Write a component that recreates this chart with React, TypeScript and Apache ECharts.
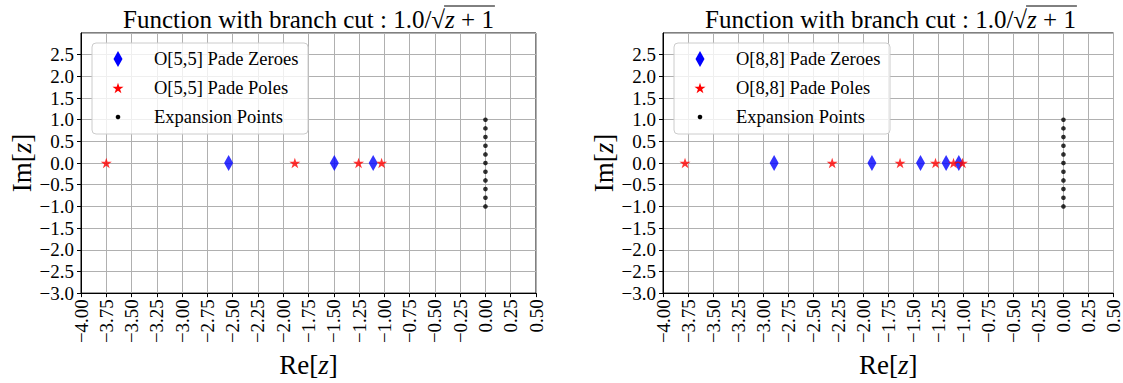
import React, { useEffect, useRef } from "react";
import * as echarts from "echarts";

// ---- data ----
const zeros55 = [-2.54, -1.495, -1.11];
const poles55 = [-3.75, -1.885, -1.255, -1.027];
const zeros88 = [-2.89, -1.913, -1.428, -1.172, -1.045];
const poles88 = [-3.78, -2.31, -1.632, -1.278, -1.098, -1.009];
const expansionIm = [-1, -0.8, -0.6, -0.4, -0.2, 0, 0.2, 0.4, 0.6, 0.8, 1];
const orders = ["O[5,5]", "O[8,8]"];
const titleMain = "Function with branch cut : 1.0/";
const xName = "Re";
const yName = "Im";

const FONT = "Liberation Serif";
const STAR =
  "path://M100,0 L122.45,69.1 L195.11,69.1 L136.33,111.8 L158.78,180.9 L100,138.2 L41.22,180.9 L63.67,111.8 L4.89,69.1 L77.55,69.1 Z";

const GRIDS = [
  { left: 81, top: 33, width: 455, height: 264 },
  { left: 663, top: 33, width: 455, height: 264 },
];

function starPoints(cx: number, cy: number, R: number) {
  const pts: number[][] = [];
  for (let i = 0; i < 10; i++) {
    const a = (-90 + i * 36) * (Math.PI / 180);
    const r = i % 2 === 0 ? R : R * 0.382;
    pts.push([cx + r * Math.cos(a), cy + r * Math.sin(a)]);
  }
  return pts;
}

function measure(text: string, font: string) {
  const c = document.createElement("canvas").getContext("2d")!;
  c.font = font;
  return c.measureText(text).width;
}

const fmt = (d: number) => (v: number) =>
  "{t|" + (v < 0 ? "\u2212" : "") + Math.abs(v).toFixed(d) + "}";

const tickRich = { t: { fontSize: 19, fontFamily: FONT, color: "#000" } };

export default function App() {
  const ref = useRef<HTMLDivElement>(null);
  useEffect(() => {
    document.body.style.margin = "0";
    const chart = echarts.init(ref.current!, null, { renderer: "svg" });

    const panels = [
      { zeros: zeros55, poles: poles55 },
      { zeros: zeros88, poles: poles88 },
    ];

    const xAxes: any[] = [];
    const yAxes: any[] = [];
    const series: any[] = [];
    const graphics: any[] = [];

    const tSize = 25;
    const fA = `${tSize}px 'Liberation Serif'`;
    const fI = `italic ${tSize}px 'Liberation Serif'`;
    const wA = measure(titleMain, fA);
    const wS = measure("\u221A", fA);
    const wZ = measure("z", fI);
    const wR = measure(" + 1", fA);
    const total = wA + wS + wZ + wR;

    const nameStyle = {
      fontSize: 27,
      fontFamily: FONT,
      color: "#000",
      rich: { i: { fontStyle: "italic", fontSize: 27, fontFamily: FONT, color: "#000" } },
    };

    panels.forEach((p, i) => {
      const g = GRIDS[i];
      xAxes.push({
        type: "value",
        gridIndex: i,
        min: -4,
        max: 0.5,
        interval: 0.25,
        name: `${xName}[{i|z}]`,
        nameLocation: "middle",
        nameGap: 50,
        nameTextStyle: nameStyle,
        axisLine: { show: true, onZero: false, lineStyle: { color: "#000", width: 1 } },
        axisTick: { show: true, length: 4, lineStyle: { color: "#000" } },
        axisLabel: {
          rotate: 90,
          margin: 6,
          fontSize: 19,
          fontFamily: FONT,
          color: "#000",
          formatter: fmt(2),
          rich: tickRich,
        },
        splitLine: { show: true, lineStyle: { color: "#b0b0b0", width: 1 } },
      });
      yAxes.push({
        type: "value",
        gridIndex: i,
        min: -3,
        max: 3,
        interval: 0.5,
        name: `${yName}[{i|z}]`,
        nameLocation: "middle",
        nameGap: 44,
        nameTextStyle: nameStyle,
        axisLine: { show: true, onZero: false, lineStyle: { color: "#000", width: 1 } },
        axisTick: { show: true, length: 4, lineStyle: { color: "#000" } },
        axisLabel: {
          margin: 7,
          fontSize: 19,
          fontFamily: FONT,
          color: "#000",
          showMaxLabel: false,
          formatter: fmt(1),
          rich: tickRich,
        },
        splitLine: { show: true, lineStyle: { color: "#b0b0b0", width: 1 } },
      });

      series.push(
        {
          type: "scatter",
          name: `${orders[i]} Pade Zeroes`,
          xAxisIndex: i,
          yAxisIndex: i,
          symbol: "diamond",
          symbolSize: [9, 16],
          itemStyle: { color: "#0000ff" },
          data: p.zeros.map((x) => [x, 0]),
          z: 3,
        },
        {
          type: "scatter",
          name: `${orders[i]} Pade Poles`,
          xAxisIndex: i,
          yAxisIndex: i,
          symbol: STAR,
          symbolKeepAspect: true,
          symbolSize: 11,
          itemStyle: { color: "#ff0000" },
          data: p.poles.map((x) => [x, 0]),
          z: 4,
        },
        {
          type: "scatter",
          name: "Expansion Points",
          xAxisIndex: i,
          yAxisIndex: i,
          symbol: "circle",
          symbolSize: 4.6,
          itemStyle: { color: "#000" },
          data: expansionIm.map((y) => [0, y]),
          z: 5,
        }
      );

      // title
      const cx = g.left + g.width / 2;
      const x0 = cx - total / 2;
      const ty = 19;
      graphics.push(
        {
          type: "text",
          x: x0,
          y: ty,
          style: { text: titleMain + "\u221A", font: fA, fill: "#000", verticalAlign: "middle" },
        },
        {
          type: "text",
          x: x0 + wA + wS,
          y: ty,
          style: { text: "z", font: fI, fill: "#000", verticalAlign: "middle" },
        },
        {
          type: "text",
          x: x0 + wA + wS + wZ,
          y: ty,
          style: { text: " + 1", font: fA, fill: "#000", verticalAlign: "middle" },
        },
        {
          type: "line",
          shape: { x1: x0 + wA + wS - 1, y1: 6, x2: x0 + total + 1, y2: 6 },
          style: { stroke: "#000", lineWidth: 1 },
        }
      );

      // legend box
      const lx = g.left + 11;
      const ly = 43;
      const mx = lx + 26;
      const tx = lx + 62;
      const rows = [59, 88, 117];
      graphics.push({
        type: "rect",
        shape: { x: lx, y: ly, width: 216, height: 91, r: 4 },
        style: { fill: "rgba(255,255,255,0.8)", stroke: "#cccccc", lineWidth: 1 },
        z: 10,
      });
      graphics.push({
        type: "polygon",
        shape: {
          points: [
            [mx, rows[0] - 8],
            [mx + 4.5, rows[0]],
            [mx, rows[0] + 8],
            [mx - 4.5, rows[0]],
          ],
        },
        style: { fill: "#0000ff" },
        z: 11,
      });
      graphics.push({
        type: "polygon",
        shape: { points: starPoints(mx, rows[1] + 0.5, 5.8) },
        style: { fill: "#ff0000" },
        z: 11,
      });
      graphics.push({
        type: "circle",
        shape: { cx: mx, cy: rows[2], r: 2.3 },
        style: { fill: "#000" },
        z: 11,
      });
      const labels = [`${orders[i]} Pade Zeroes`, `${orders[i]} Pade Poles`, "Expansion Points"];
      labels.forEach((t, k) => {
        graphics.push({
          type: "text",
          x: tx,
          y: rows[k],
          style: { text: t, font: `18.5px 'Liberation Serif'`, fill: "#000", verticalAlign: "middle" },
          z: 11,
        });
      });
    });

    chart.setOption({
      animation: false,
      backgroundColor: "#fff",
      textStyle: { fontFamily: FONT },
      grid: GRIDS.map((g) => ({
        ...g,
        show: true,
        borderColor: "#000",
        borderWidth: 1,
        backgroundColor: "transparent",
        containLabel: false,
      })),
      xAxis: xAxes,
      yAxis: yAxes,
      series,
      graphic: graphics,
    });

    return () => chart.dispose();
  }, []);

  return <div ref={ref} style={{ width: 1123, height: 383 }} />;
}
